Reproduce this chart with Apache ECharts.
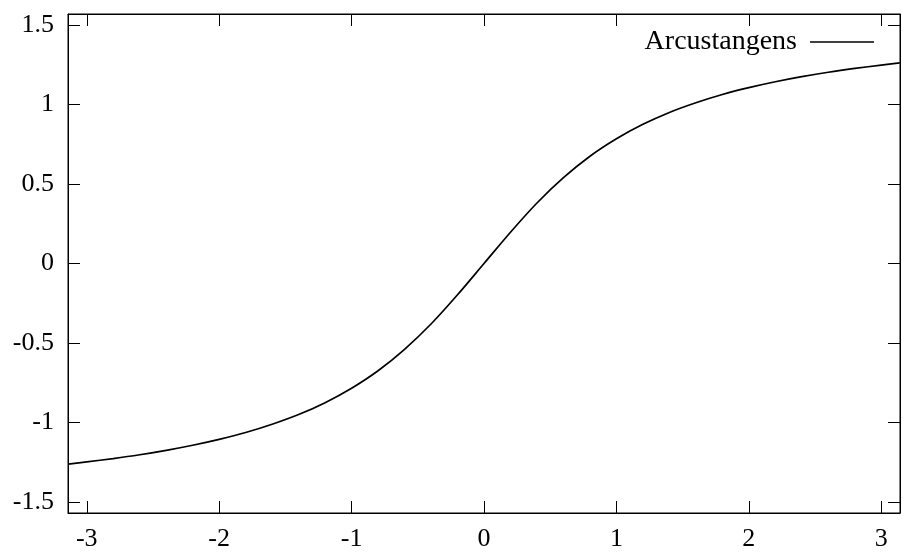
<!DOCTYPE html>
<html lang="en">
<head>
    <meta charset="utf-8">
    <title>Arcustangens</title>
    <script src="https://cdn.jsdelivr.net/npm/echarts@6/dist/echarts.min.js"></script>
    <style>
        html, body { margin: 0; padding: 0; background: #fff; }
        #box { width: 903px; height: 552px; }
    </style>
</head>
<body>
<div id="box"></div>
<script>
    // values
    var xVals = [-3.14, -3.0, -2.8, -2.6, -2.4, -2.2, -2.0, -1.8, -1.6, -1.4, -1.2, -1.0, -0.8, -0.6, -0.4, -0.2, 0,
                 0.2, 0.4, 0.6, 0.8, 1.0, 1.2, 1.4, 1.6, 1.8, 2.0, 2.2, 2.4, 2.6, 2.8, 3.0, 3.14];
    var yVals = [-1.263, -1.249, -1.228, -1.204, -1.176, -1.144, -1.107, -1.064, -1.012, -0.951, -0.876, -0.785, -0.675, -0.540, -0.381, -0.197, 0,
                 0.197, 0.381, 0.540, 0.675, 0.785, 0.876, 0.951, 1.012, 1.064, 1.107, 1.144, 1.176, 1.204, 1.228, 1.249, 1.263];
    var xTicks = [-3, -2, -1, 0, 1, 2, 3];
    var yTicks = [-1.5, -1, -0.5, 0, 0.5, 1, 1.5];
    var seriesName = 'Arcustangens';

    var font = '"Liberation Serif", "DejaVu Serif", serif';
    var points = xVals.map(function (x, i) { return [x, yVals[i]]; });

    function tickAxis(pos, isX, showLabels) {
        return {
            type: 'value',
            position: pos,
            min: isX ? -3.1416 : -1.5708,
            max: isX ? 3.1416 : 1.5708,
            axisLine: { show: true, onZero: false, lineStyle: { color: '#000', width: 1 } },
            axisTick: {
                show: true, inside: true, length: 12,
                customValues: isX ? xTicks : yTicks,
                lineStyle: { color: '#000', width: 1 }
            },
            axisLabel: {
                show: showLabels,
                customValues: isX ? xTicks : yTicks,
                margin: isX ? 13 : 14,
                padding: isX ? 0 : [3, 0, 0, 0],
                color: '#000',
                fontFamily: font,
                fontSize: 26
            },
            splitLine: { show: false }
        };
    }

    var myChart = echarts.init(document.getElementById('box'));
    var option = {
        animation: false,
        backgroundColor: '#fff',
        grid: { left: 68, top: 14, width: 832, height: 499, show: true, borderColor: '#000', borderWidth: 1 },
        legend: {
            right: 24,
            top: 23,
            align: 'right',
            itemWidth: 64,
            itemHeight: 1.5,
            icon: 'rect',
            data: [seriesName],
            textStyle: { color: '#000', fontFamily: font, fontSize: 28, padding: [0, 8, 9, 0] }
        },
        xAxis: [tickAxis('bottom', true, true), tickAxis('top', true, false)],
        yAxis: [tickAxis('left', false, true), tickAxis('right', false, false)],
        series: [{
            name: seriesName,
            type: 'line',
            data: points,
            smooth: 0.3,
            symbol: 'none',
            itemStyle: { color: '#000' },
            lineStyle: { color: '#000', width: 1.7 }
        }]
    };
    myChart.setOption(option);
</script>
</body>
</html>
